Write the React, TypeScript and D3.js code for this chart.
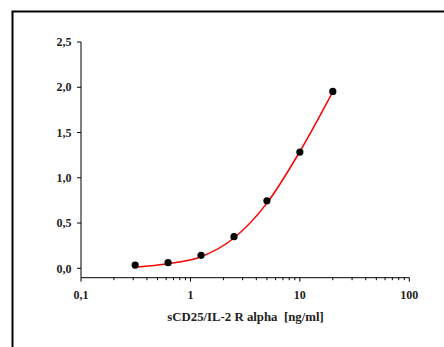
import React from "react";
import * as d3 from "d3";

const concentrations = [0.3125, 0.625, 1.25, 2.5, 5, 10, 20];
const measured = [0.036, 0.062, 0.143, 0.349, 0.746, 1.284, 1.954];
const fitX = [0.3125, 0.625, 1.25, 2.5, 5, 10, 20];
const fitY = [0.012, 0.05, 0.128, 0.335, 0.72, 1.29, 1.95];
const yTicks = [0, 0.5, 1, 1.5, 2, 2.5];
const xMajor = [0.1, 1, 10, 100];
const xLabel = "sCD25/IL-2 R alpha  [ng/ml]";

const W = 444;
const H = 347;

export default function App() {
  const x = d3.scaleLog().domain([0.1, 100]).range([81, 409.3]);
  const y = d3.scaleLinear().domain([0, 2.5]).range([268.3, 42]);
  const axisY = 277.7;
  const minor: number[] = [];
  for (let d = 0.1; d < 100; d *= 10) {
    for (let k = 2; k <= 9; k++) minor.push(+(d * k).toPrecision(3));
  }
  const line = d3
    .line<number>()
    .x((_, i) => x(fitX[i]))
    .y((v) => y(v))
    .curve(d3.curveMonotoneX);
  const fmt = (v: number) => v.toFixed(1).replace(".", ",");
  const font = "'Liberation Serif', 'DejaVu Serif', serif";
  return (
    <svg
      width={W}
      height={H}
      style={{ position: "absolute", left: 0, top: 0 }}
      fontFamily={font}
    >
      <rect x={0} y={0} width={W} height={H} fill="#fff" />
      <rect x={12.5} y={11.5} width={W + 20} height={H + 20} fill="none" stroke="#000" strokeWidth={2} />
      {/* y axis */}
      <line x1={81} x2={81} y1={42} y2={axisY} stroke="#000" strokeWidth={1} />
      {yTicks.map((t) => (
        <g key={t}>
          <line x1={77} x2={81} y1={y(t)} y2={y(t)} stroke="#000" />
          <text
            x={71.5}
            y={y(t)}
            dy="0.35em"
            textAnchor="end"
            fontSize={12}
            fontWeight="bold"
            fill="#222"
          >
            {fmt(t)}
          </text>
        </g>
      ))}
      {/* x axis */}
      <line x1={81} x2={409.3} y1={axisY} y2={axisY} stroke="#000" strokeWidth={1} />
      {minor.map((t) => (
        <line key={"m" + t} x1={x(t)} x2={x(t)} y1={axisY} y2={axisY + 2.5} stroke="#000" />
      ))}
      {xMajor.map((t) => (
        <g key={t}>
          <line x1={x(t)} x2={x(t)} y1={axisY} y2={axisY + 4} stroke="#000" />
          <text
            x={x(t)}
            y={298.5}
            textAnchor="middle"
            fontSize={12}
            fontWeight="bold"
            fill="#222"
          >
            {t < 1 ? String(t).replace(".", ",") : String(t)}
          </text>
        </g>
      ))}
      <text x={245.5} y={321} textAnchor="middle" fontSize={12.8} fontWeight="bold" fill="#222" style={{ whiteSpace: "pre" }}>
        {xLabel}
      </text>
      <path d={line(fitY) || ""} fill="none" stroke="#ff0000" strokeWidth={1.5} />
      {concentrations.map((c, i) => (
        <circle key={c} cx={x(c)} cy={y(measured[i])} r={3.6} fill="#000" />
      ))}
    </svg>
  );
}
